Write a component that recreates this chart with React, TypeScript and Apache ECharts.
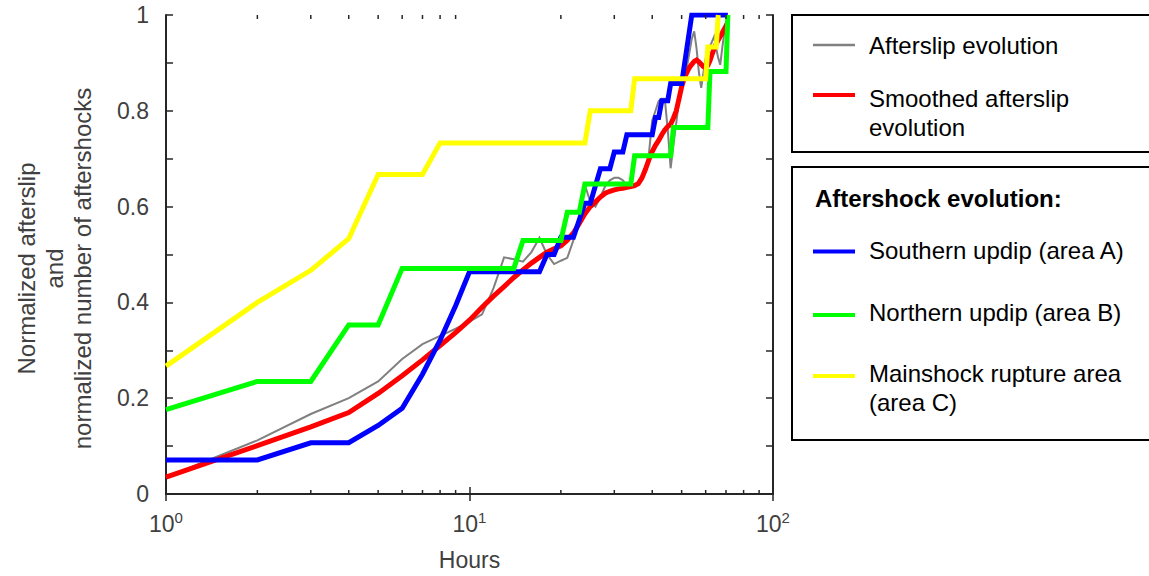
import React, { useEffect, useRef } from "react";
import * as echarts from "echarts";

// ---- Data ----
const hours = [
  1, 2, 3, 4, 5, 6, 7, 8, 9, 10, 11, 12, 13, 14, 15, 16, 17, 18, 19, 20,
  21, 22, 23, 24, 25, 26, 27, 28, 29, 30, 31, 32, 33, 34, 35, 36, 37, 38, 39, 40,
  41, 42, 43, 44, 45, 46, 47, 48, 49, 50, 51, 52, 53, 54, 55, 56, 57, 58, 59, 60,
  61, 62, 63, 64, 65, 66, 67, 68, 69, 70, 71,
];

const afterslip = [
  0.035, 0.112, 0.167, 0.2, 0.235, 0.282, 0.313, 0.33, 0.345, 0.36,
  0.375, 0.43, 0.494, 0.49, 0.485, 0.505, 0.535, 0.5, 0.48, 0.487,
  0.493, 0.53, 0.58, 0.645, 0.61, 0.6, 0.62, 0.643, 0.655, 0.66,
  0.66, 0.655, 0.645, 0.643, 0.645, 0.65, 0.655, 0.675, 0.71, 0.78,
  0.8, 0.82, 0.825, 0.825, 0.76, 0.68, 0.73, 0.775, 0.82, 0.85,
  0.87, 0.89, 0.92, 0.95, 0.966, 0.93, 0.88, 0.848, 0.88, 0.91,
  0.924, 0.935, 0.945, 0.955, 0.93, 0.91, 0.896, 0.93, 0.96, 0.985,
  1.0,
];

const smoothed = [
  0.035, 0.101, 0.14, 0.17, 0.21, 0.247, 0.28, 0.31, 0.337, 0.363,
  0.39, 0.413, 0.433, 0.452, 0.468, 0.482, 0.494, 0.505, 0.512, 0.518,
  0.53, 0.545, 0.565, 0.585, 0.6, 0.61, 0.62, 0.628, 0.632, 0.635,
  0.637, 0.638, 0.64, 0.642, 0.644, 0.648, 0.66, 0.678, 0.698, 0.715,
  0.728, 0.738, 0.75, 0.76, 0.767, 0.772, 0.785, 0.8, 0.825, 0.85,
  0.868, 0.88, 0.89, 0.897, 0.903, 0.906, 0.902, 0.897, 0.892, 0.89,
  0.895, 0.905, 0.918, 0.93, 0.94, 0.948, 0.955, 0.962, 0.97, 0.977,
  0.985,
];

const areaAHours = [1, 2, 3, 4, 5, 6, 7, 8, 9, 10, 17, 18, 19, 20, 22, 24, 25, 27, 29, 30, 32, 33, 40, 41, 42, 43, 45, 46, 50, 54, 71];
const areaAValues = [0.071, 0.071, 0.107, 0.107, 0.143, 0.179, 0.25, 0.321, 0.393, 0.464, 0.464, 0.5, 0.5, 0.536, 0.536, 0.607, 0.607, 0.679, 0.679, 0.714, 0.714, 0.75, 0.75, 0.786, 0.786, 0.821, 0.821, 0.857, 0.857, 1, 1];

const areaBHours = [1, 2, 3, 4, 5, 6, 14, 15, 20, 21, 23, 24, 34, 35, 46, 47, 61, 62, 70, 71];
const areaBValues = [0.176, 0.235, 0.235, 0.353, 0.353, 0.471, 0.471, 0.529, 0.529, 0.588, 0.588, 0.647, 0.647, 0.706, 0.706, 0.765, 0.765, 0.882, 0.882, 1];

const areaCHours = [1, 2, 3, 4, 5, 7, 8, 24, 25, 34, 35, 60, 61, 65, 66];
const areaCValues = [0.267, 0.4, 0.467, 0.533, 0.667, 0.667, 0.733, 0.733, 0.8, 0.8, 0.867, 0.867, 0.933, 0.933, 1];

const minorTicks = [2, 3, 4, 5, 6, 7, 8, 9, 20, 30, 40, 50, 60, 70, 80, 90];
const yTickLabels = ["0", "0.2", "0.4", "0.6", "0.8", "1"];

const seriesNames = [
  "Afterslip evolution",
  "Smoothed afterslip\nevolution",
  "Southern updip (area A)",
  "Northern updip (area B)",
  "Mainshock rupture area\n(area C)",
];
const seriesColors = ["#808080", "#ff0000", "#0000ff", "#00ff00", "#ffff00"];
const legendHeader = "Aftershock evolution:";

const FONT = "'Liberation Sans', Arial, Helvetica, sans-serif";
const AXIS = "#262626";
const TXT = "#404040";

function zip(xs: number[], ys: number[]) {
  return xs.map((x, i) => [x, ys[i]]);
}

export default function App() {
  const ref = useRef<HTMLDivElement>(null);

  useEffect(() => {
    if (!ref.current) return;
    const chart = echarts.init(ref.current, undefined, { renderer: "svg" });

    const lineSeries = (name: string, color: string, data: number[][], width: number, z: number) => ({
      type: "line",
      name,
      data,
      showSymbol: false,
      symbol: "none",
      lineStyle: { color, width, join: "miter" },
      itemStyle: { color },
      z,
      silent: true,
      clip: true,
    });

    const legendX = 792;
    const sampleX1 = 813;
    const sampleX2 = 855;
    const textX = 869;
    const lgText = (text: string, y: number, bold = false) => ({
      type: "text",
      x: textX,
      y,
      style: {
        text,
        fontSize: 24,
        fontFamily: FONT,
        fontWeight: bold ? "bold" : "normal",
        fill: "#000",
        verticalAlign: "top",
        lineHeight: 29,
      },
    });
    const lgLine = (y: number, color: string, w: number) => ({
      type: "line",
      shape: { x1: sampleX1, y1: y, x2: sampleX2, y2: y },
      style: { stroke: color, lineWidth: w },
    });

    const option: any = {
      animation: false,
      backgroundColor: "#fff",
      grid: { left: 166, right: 376, top: 15, bottom: 81, containLabel: false },
      xAxis: [
        {
          type: "log",
          logBase: 10,
          min: 1,
          max: 100,
          name: "Hours",
          nameLocation: "middle",
          nameGap: 54,
          nameTextStyle: { fontSize: 23, color: TXT, fontFamily: FONT },
          axisLine: { show: true, lineStyle: { color: AXIS, width: 2 } },
          axisTick: { show: true, inside: true, length: 7, lineStyle: { color: AXIS, width: 1.5 } },
          splitLine: { show: false },
          axisLabel: {
            margin: 16,
            formatter: (v: number) => `{b|10}{s|${Math.round(Math.log10(v))}}`,
            rich: {
              b: { fontSize: 23, color: TXT, fontFamily: FONT, lineHeight: 28 },
              s: { fontSize: 15, color: TXT, fontFamily: FONT, verticalAlign: "top", lineHeight: 15 },
            },
          },
        },
        {
          type: "log",
          logBase: 10,
          min: 1,
          max: 100,
          position: "top",
          axisLine: { show: true, lineStyle: { color: AXIS, width: 2 } },
          axisTick: { show: true, inside: true, length: 7, lineStyle: { color: AXIS, width: 1.5 } },
          axisLabel: { show: false },
          splitLine: { show: false },
        },
      ],
      yAxis: [
        {
          type: "value",
          min: 0,
          max: 1,
          interval: 0.1,
          name: "Normalized afterslip\nand\nnormalized number of aftershocks",
          nameLocation: "middle",
          nameRotate: 90,
          nameGap: 70,
          nameTextStyle: {
            fontSize: 24,
            color: TXT,
            fontFamily: FONT,
            lineHeight: 28,
            align: "center",
            padding: [0, 28, 0, 0],
          },
          axisLine: { show: true, lineStyle: { color: AXIS, width: 2 } },
          axisTick: { show: true, inside: true, length: 7, lineStyle: { color: AXIS, width: 1.5 } },
          splitLine: { show: false },
          axisLabel: {
            margin: 17,
            fontSize: 23,
            color: TXT,
            fontFamily: FONT,
            formatter: (v: number) => {
              const k = Math.round(v * 10);
              return k % 2 === 0 ? yTickLabels[k / 2] : "";
            },
          },
        },
        {
          type: "value",
          min: 0,
          max: 1,
          interval: 0.1,
          position: "right",
          axisLine: { show: true, lineStyle: { color: AXIS, width: 2 } },
          axisTick: { show: true, inside: true, length: 7, lineStyle: { color: AXIS, width: 1.5 } },
          axisLabel: { show: false },
          splitLine: { show: false },
        },
      ],
      series: [
        {
          type: "custom",
          name: "minorTicks",
          silent: true,
          z: 10,
          data: minorTicks.map((v) => [v, 0]),
          encode: { x: 0, y: 1 },
          clip: false,
          renderItem: (params: any, api: any) => {
            const v = api.value(0);
            const b = api.coord([v, 0]);
            const t = api.coord([v, 1]);
            return {
              type: "group",
              children: [
                { type: "line", shape: { x1: b[0], y1: b[1], x2: b[0], y2: b[1] - 4 }, style: { stroke: AXIS, lineWidth: 1.5 } },
                { type: "line", shape: { x1: t[0], y1: t[1], x2: t[0], y2: t[1] + 4 }, style: { stroke: AXIS, lineWidth: 1.5 } },
              ],
            };
          },
        },
        lineSeries(seriesNames[0], seriesColors[0], zip(hours, afterslip), 2, 2),
        lineSeries(seriesNames[1], seriesColors[1], zip(hours, smoothed), 5, 3),
        lineSeries(seriesNames[2], seriesColors[2], zip(areaAHours, areaAValues), 5, 4),
        lineSeries(seriesNames[3], seriesColors[3], zip(areaBHours, areaBValues), 5, 5),
        lineSeries(seriesNames[4], seriesColors[4], zip(areaCHours, areaCValues), 5, 6),
      ],
      graphic: [
        {
          type: "rect",
          shape: { x: legendX, y: 15, width: 400, height: 137 },
          style: { fill: "#fff", stroke: "#000", lineWidth: 2 },
        },
        lgLine(45, seriesColors[0], 2.5),
        lgText(seriesNames[0], 31),
        lgLine(95, seriesColors[1], 4),
        lgText(seriesNames[1], 84),
        {
          type: "rect",
          shape: { x: legendX, y: 167, width: 400, height: 273 },
          style: { fill: "#fff", stroke: "#000", lineWidth: 2 },
        },
        { ...lgText(legendHeader, 184, true), x: 815 },
        lgLine(251.5, seriesColors[2], 4),
        lgText(seriesNames[2], 236),
        lgLine(315, seriesColors[3], 4),
        lgText(seriesNames[3], 298),
        lgLine(376, seriesColors[4], 4),
        lgText(seriesNames[4], 359),
      ],
    };

    chart.setOption(option);
    return () => chart.dispose();
  }, []);

  return (
    <div
      ref={ref}
      style={{ position: "absolute", left: 0, top: 0, width: 1149, height: 576, background: "#fff" }}
    />
  );
}
